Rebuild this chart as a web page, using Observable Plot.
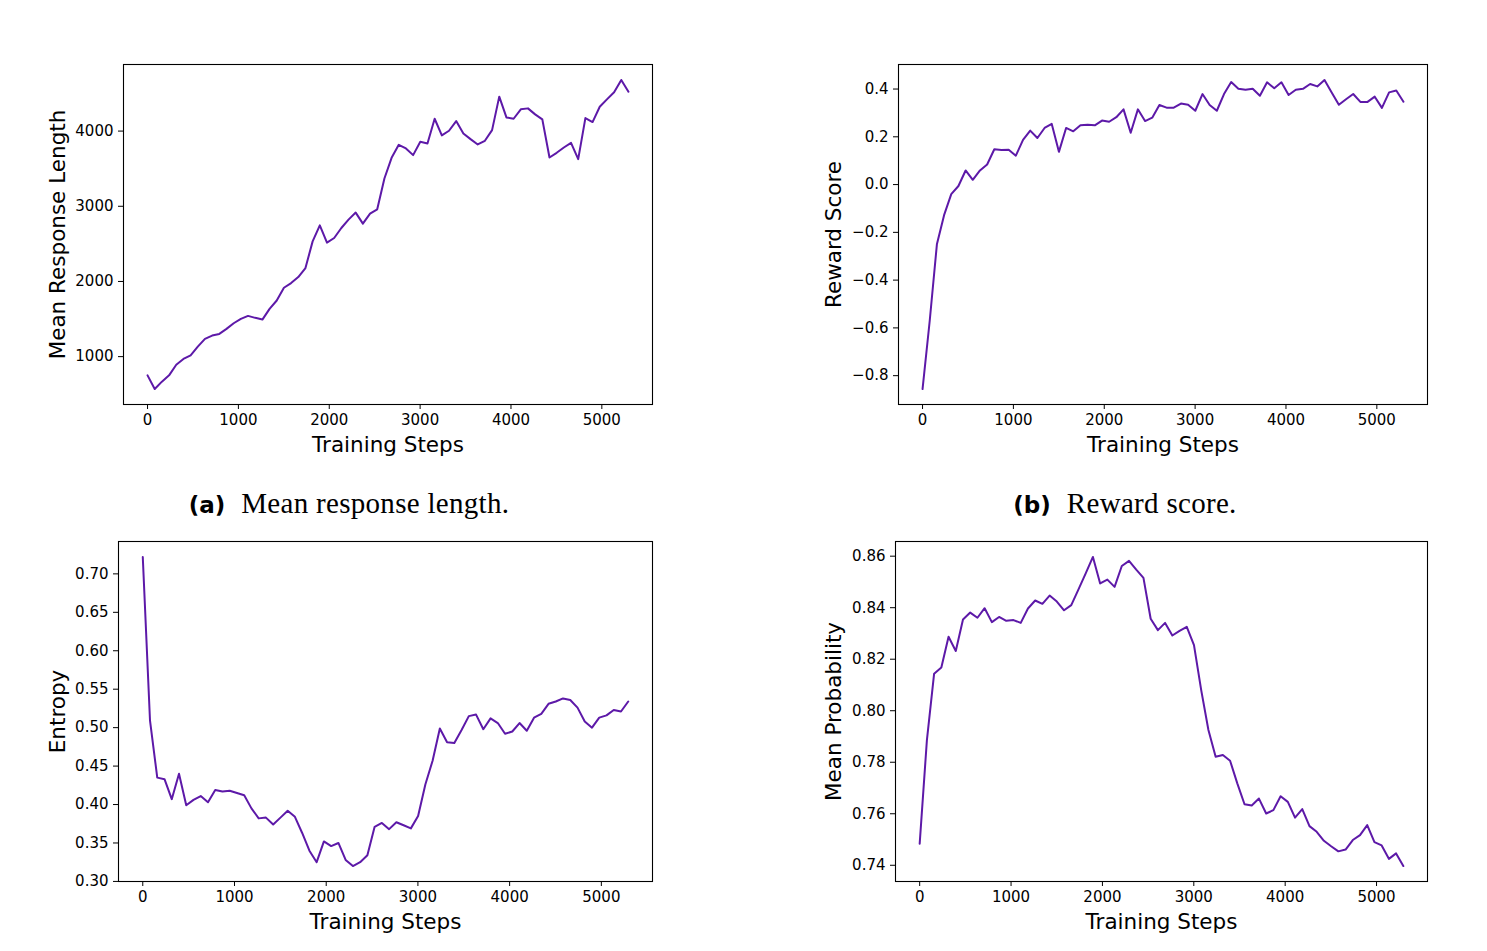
<!DOCTYPE html>
<html>
<head>
<meta charset="utf-8">
<script src="https://cdn.jsdelivr.net/npm/d3@7"></script>
<script src="https://cdn.jsdelivr.net/npm/@observablehq/plot@0.6"></script>
<style>
  html, body { margin: 0; padding: 0; background: #fff; }
  #fig { position: relative; width: 1487px; height: 951px; background: #fff; overflow: hidden; }
  .panel { position: absolute; }
  .cap { position: absolute; text-align: center; line-height: 30px; white-space: nowrap; color: #000; }
  .cap .tag { font-family: "DejaVu Sans", sans-serif; font-weight: bold; font-size: 23px; margin-right: 16px; }
  .cap .txt { font-family: "Liberation Serif", "DejaVu Serif", serif; font-size: 29px; letter-spacing: 0.3px; }
</style>
</head>
<body>
<div id="fig">
  <div class="cap" style="left:0px; width:698px; top:488px;"><span class="tag">(a)</span><span class="txt">Mean response length.</span></div>
  <div class="cap" style="left:775px; width:700px; top:488px;"><span class="tag">(b)</span><span class="txt">Reward score.</span></div>
</div>
<script>
// ---- data ----
const steps = [0,79,158,237,316,395,474,553,632,711,790,869,948,1027,1106,1185,1264,1343,1422,1501,1580,1659,1738,1817,1896,1975,2054,2133,2212,2291,2370,2449,2528,2607,2686,2765,2844,2923,3002,3081,3160,3239,3318,3397,3476,3555,3634,3713,3792,3871,3950,4029,4108,4187,4266,4345,4424,4503,4582,4661,4740,4819,4898,4977,5056,5135,5214,5293];

const responseLength = [751,569,667,751,893,969,1018,1133,1236,1280,
  1302,1369,1444,1502,1542,1516,1493,1636,1747,1916,
  1978,2058,2178,2533,2747,2516,2578,2711,2822,2916,
  2769,2902,2960,3369,3644,3818,3769,3680,3858,3836,
  4164,3942,4004,4133,3969,3893,3822,3871,4013,4458,
  4182,4164,4289,4302,4222,4156,3649,3711,3782,3844,
  3627,4173,4120,4324,4422,4516,4680,4524];

const rewardScore = [-0.856,-0.57,-0.250,-0.128,-0.040,-0.006,0.059,0.020,0.059,0.084,
  0.148,0.145,0.146,0.121,0.187,0.226,0.195,0.237,0.254,0.137,
  0.237,0.223,0.248,0.250,0.248,0.268,0.263,0.282,0.315,0.217,
  0.315,0.266,0.280,0.333,0.322,0.322,0.339,0.334,0.309,0.379,
  0.333,0.309,0.379,0.429,0.401,0.397,0.401,0.372,0.428,0.403,
  0.428,0.375,0.397,0.401,0.421,0.411,0.438,0.386,0.334,0.357,
  0.379,0.346,0.346,0.368,0.321,0.386,0.394,0.347];

const entropy = [0.722,0.509,0.435,0.433,0.407,0.440,0.399,0.406,0.411,0.403,
  0.419,0.417,0.418,0.415,0.412,0.395,0.382,0.383,0.374,0.383,
  0.392,0.384,0.363,0.340,0.325,0.352,0.346,0.350,0.328,0.320,
  0.325,0.334,0.371,0.376,0.368,0.377,0.373,0.369,0.385,0.426,
  0.457,0.499,0.481,0.480,0.497,0.515,0.517,0.498,0.512,0.506,
  0.492,0.495,0.506,0.496,0.513,0.518,0.531,0.534,0.538,0.536,
  0.526,0.508,0.500,0.513,0.516,0.523,0.521,0.534];

const meanProbability = [0.7484,0.7886,0.8144,0.8168,0.8287,0.8232,0.8354,0.8381,0.8361,0.8398,
  0.8344,0.8364,0.8349,0.8352,0.8341,0.8397,0.8428,0.8415,0.8447,0.8424,
  0.8390,0.8410,0.8471,0.8533,0.8597,0.8494,0.8509,0.8481,0.8562,0.8582,
  0.8548,0.8516,0.8357,0.8313,0.8341,0.8292,0.8310,0.8326,0.8255,0.8080,
  0.7925,0.7821,0.7828,0.7806,0.7718,0.7637,0.7632,0.7659,0.7601,0.7614,
  0.7668,0.7646,0.7585,0.7618,0.7552,0.7530,0.7495,0.7474,0.7454,0.7461,
  0.7498,0.7517,0.7556,0.7490,0.7477,0.7425,0.7446,0.7397];

const xTicks = [0,1000,2000,3000,4000,5000];
const xLabel = "Training Steps";
const lengthTicks = [1000,2000,3000,4000];
const rewardTicks = [-0.8,-0.6,-0.4,-0.2,0.0,0.2,0.4];
const entropyTicks = [0.30,0.35,0.40,0.45,0.50,0.55,0.60,0.65,0.70];
const probTicks = [0.74,0.76,0.78,0.80,0.82,0.84,0.86];

// ---- drawing ----
const lineColor = "#5d19a8";
function pad(ext) { const d = (ext[1] - ext[0]) * 0.05; return [ext[0] - d, ext[1] + d]; }

function panel(values, yTicks, yFmt, yLabel, opts) {
  return Plot.plot({
    width: 680,
    height: 470,
    marginLeft: opts.ml,
    marginRight: opts.mr,
    marginTop: 64,
    marginBottom: 66,
    style: { background: "transparent", fontFamily: "DejaVu Sans, sans-serif", fontSize: "15px", color: "#000", overflow: "visible" },
    x: { domain: pad(d3.extent(steps)) },
    y: { domain: pad(d3.extent(values)) },
    marks: [
      Plot.axisX(xTicks, { tickFormat: d3.format("d"), tickSize: 5, tickPadding: 5, label: null, fontSize: 15, stroke: "#000" }),
      Plot.axisY(yTicks, { tickFormat: d3.format(yFmt), tickSize: 5, tickPadding: 5, label: null, fontSize: 15, stroke: "#000" }),
      Plot.line(values, { x: steps, y: values, stroke: lineColor, strokeWidth: 2, strokeLinejoin: "round" }),
      Plot.frame({ stroke: "#000", strokeWidth: 1.1 }),
      Plot.text([xLabel], { text: d => d, frameAnchor: "bottom", lineAnchor: "middle", dy: 41, fontSize: 21.5, fill: "#000" }),
      Plot.text([yLabel], { text: d => d, frameAnchor: "left", textAnchor: "middle", lineAnchor: "middle", rotate: -90, dx: opts.ldx, fontSize: 21.5, fill: "#000" })
    ]
  });
}

const fig = document.getElementById("fig");
function place(node, left, top) {
  node.classList.add("panel");
  node.style.left = left + "px";
  node.style.top = top + "px";
  fig.appendChild(node);
}

place(panel(responseLength, lengthTicks, "d", "Mean Response Length", { ml: 123, mr: 28, ldx: -65 }), 0, 0);
place(panel(rewardScore, rewardTicks, ".1f", "Reward Score", { ml: 123, mr: 28, ldx: -64 }), 775, 0);
place(panel(entropy, entropyTicks, ".2f", "Entropy", { ml: 118, mr: 28, ldx: -60 }), 0, 477);
place(panel(meanProbability, probTicks, ".2f", "Mean Probability", { ml: 120, mr: 28, ldx: -61 }), 775, 477);
</script>
</body>
</html>
